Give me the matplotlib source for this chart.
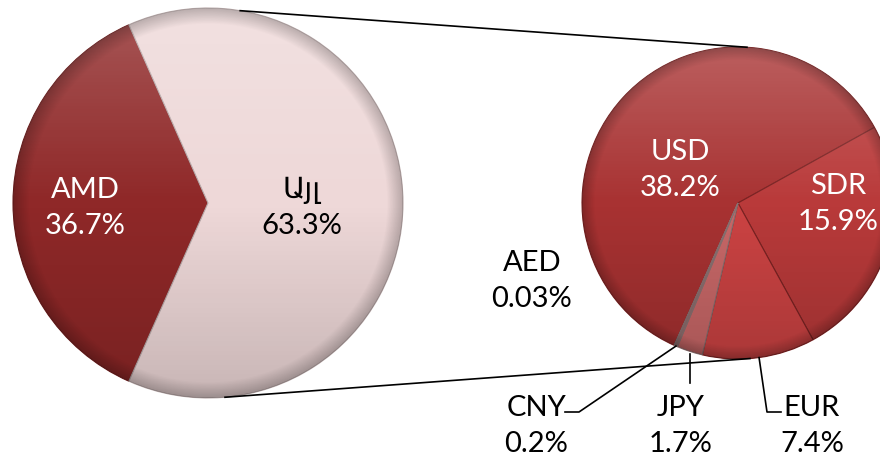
import numpy as np
import matplotlib
matplotlib.use("Agg")
import matplotlib.pyplot as plt
from matplotlib.patches import Circle

plt.rcParams['font.family'] = ['Lato', 'Noto Sans', 'DejaVu Sans']

# left pie: share of total
main_labels = ["AMD", "Այլ"]
main_values = [36.7, 63.3]
main_colors = ["#8f2828", "#eed8d8"]
main_text = ["white", "black"]

# right pie: breakdown of the "other" part (share of total)
sub_labels = ["USD", "SDR", "EUR", "JPY", "CNY", "AED"]
sub_values = [38.2, 15.9, 7.4, 1.7, 0.2, 0.03]
sub_colors = ["#a83232", "#b93a3a", "#cc4343", "#c96868", "#8e6c6c", "#9a4a4a"]

W, H = 880, 462
fig = plt.figure(figsize=(8.8, 4.62), dpi=100)
ax = fig.add_axes([0, 0, 1, 1])

c1, r1 = (208, 259), 195
c2, r2 = (738, 259), 156

# AMD centred on the left side
start1 = 180 - main_values[0] / sum(main_values) * 360 / 2
w1, _ = ax.pie(main_values, colors=main_colors, center=c1, radius=r1,
               startangle=start1, counterclock=True, frame=True,
               wedgeprops=dict(edgecolor='#b9a9a9', linewidth=0.8))
w1[0].set_edgecolor('#6d1d1d')

# USD ends at 29 degrees going clockwise
usd_span = sub_values[0] / sum(sub_values) * 360
start2 = 29 + usd_span
w2, _ = ax.pie(sub_values, colors=sub_colors, center=c2, radius=r2,
               startangle=start2, counterclock=False, frame=True,
               wedgeprops=dict(edgecolor='#7a2222', linewidth=0.8))
for w in w2[3:]:
    w.set_edgecolor('#8a7070')


def shade(center, r):
    n = 300
    yy, xx = np.mgrid[1:-1:n * 1j, -1:1:n * 1j]
    rr = np.sqrt(xx ** 2 + yy ** 2)
    ext = (center[0] - r, center[0] + r, center[1] - r, center[1] + r)
    # light from the top, darker towards bottom
    top = np.clip(yy, 0, 1) * 0.22
    bot = np.clip(-yy, 0, 1) * 0.16
    img = np.zeros((n, n, 4))
    img[..., :3] = np.where(top[..., None] > 0, 1.0, 0.0)
    img[..., 3] = top + bot
    im = ax.imshow(img, extent=ext, zorder=3, interpolation='bilinear')
    im.set_clip_path(Circle(center, r, transform=ax.transData))
    # bevel on the rim
    rim = np.zeros((n, n, 4))
    rim[..., 3] = np.clip((rr - 0.92) / 0.08, 0, 1) * 0.22
    im2 = ax.imshow(rim, extent=ext, zorder=3, interpolation='bilinear')
    im2.set_clip_path(Circle(center, r, transform=ax.transData))


shade(c1, r1)
shade(c2, r2)
ax.set_xlim(0, W)
ax.set_ylim(0, H)
ax.set_aspect('equal')
ax.axis('off')


def pt(center, r, ang):
    a = np.deg2rad(ang)
    return center[0] + r * np.cos(a), center[1] + r * np.sin(a)


# connector lines between the pies
for a1, a2 in [(80.5, 86.7), (-85.0, -85.6)]:
    p, q = pt(c1, r1, a1), pt(c2, r2, a2)
    ax.plot([p[0], q[0]], [p[1], q[1]], color='black', lw=1.2, zorder=5)

fs = 21
ls = 1.45


def fmt(v):
    return f"{v:g}%"


# labels on the left pie
ax.text(85, H - 208, f"{main_labels[0]}\n{fmt(main_values[0])}", color=main_text[0],
        ha='center', va='center', fontsize=fs, linespacing=ls, zorder=6)
ax.text(302, H - 208, f"{main_labels[1]}\n{fmt(main_values[1])}", color=main_text[1],
        ha='center', va='center', fontsize=fs, linespacing=ls, zorder=6)

# labels on the right pie
inside = {"USD": (680, 170), "SDR": (838, 204)}
outside = {"AED": (532, 281), "CNY": (536, 426), "JPY": (681, 426), "EUR": (812, 426)}
for lab, val in zip(sub_labels, sub_values):
    if lab in inside:
        x, y = inside[lab]
        col = 'white'
    else:
        x, y = outside[lab]
        col = 'black'
    ax.text(x, H - y, f"{lab}\n{fmt(val)}", color=col, ha='center', va='center',
            fontsize=fs, linespacing=ls, zorder=6)

# leader lines from wedge edge to labels
for i, w in enumerate(w2):
    lab = sub_labels[i]
    mid = (w.theta1 + w.theta2) / 2
    ex, ey = pt(c2, r2, mid)
    if lab == "CNY":
        xs = [ex, 579, 565]
        ys = [ey, H - 412, H - 412]
    elif lab == "JPY":
        xs = [ex, ex]
        ys = [ey - 3, H - 383]
    elif lab == "EUR":
        xs = [ex, 767, 781]
        ys = [ey, H - 412, H - 412]
    else:
        continue
    ax.plot(xs, ys, color='black', lw=1.2, zorder=5)

fig.savefig("out.png", dpi=100)
